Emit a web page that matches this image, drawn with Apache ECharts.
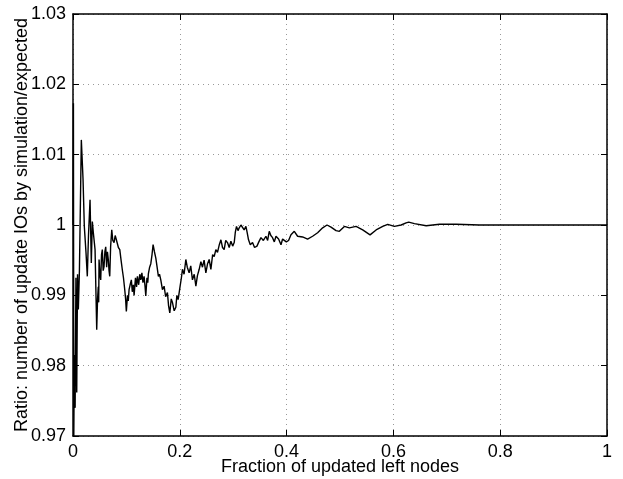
<!DOCTYPE html>
<html>
<head>
<meta charset="utf-8">
<script src="https://cdn.jsdelivr.net/npm/echarts@6/dist/echarts.min.js"></script>
<style>
  html, body { margin: 0; padding: 0; background: #fff; }
  #chart { width: 623px; height: 479px; }
</style>
</head>
<body>
<div id="chart"></div>
<script>
// Fraction of updated left nodes (x) and simulated/expected IO ratio (y)
const fraction = [
  0.0000, 0.0008, 0.0015, 0.0025, 0.0040, 0.0055, 0.0070, 0.0085, 0.0100, 0.0120,
  0.0156, 0.0188, 0.0212, 0.0244, 0.0268, 0.0290, 0.0319, 0.0343, 0.0362, 0.0381,
  0.0413, 0.0444, 0.0460, 0.0474, 0.0481, 0.0488, 0.0503, 0.0519, 0.0534, 0.0549,
  0.0565, 0.0581, 0.0597, 0.0613, 0.0630, 0.0645, 0.0662, 0.0675, 0.0688, 0.0705,
  0.0726, 0.0745, 0.0769, 0.0790, 0.0812, 0.0831, 0.0850, 0.0876, 0.0900, 0.0924,
  0.0945, 0.0969, 0.0985, 0.0999, 0.1020, 0.1035, 0.1050, 0.1070, 0.1093, 0.1110,
  0.1130, 0.1144, 0.1170, 0.1190, 0.1206, 0.1230, 0.1250, 0.1269, 0.1290, 0.1310,
  0.1331, 0.1350, 0.1363, 0.1385, 0.1400, 0.1412, 0.1435, 0.1457, 0.1480, 0.1500,
  0.1525, 0.1551, 0.1575, 0.1599, 0.1620, 0.1644, 0.1675, 0.1706, 0.1735, 0.1768,
  0.1790, 0.1813, 0.1840, 0.1862, 0.1895, 0.1926, 0.1945, 0.1969, 0.2006, 0.2030,
  0.2050, 0.2080, 0.2113, 0.2140, 0.2175, 0.2205, 0.2237, 0.2270, 0.2301, 0.2330,
  0.2363, 0.2395, 0.2424, 0.2455, 0.2488, 0.2520, 0.2550, 0.2582, 0.2615, 0.2644,
  0.2675, 0.2706, 0.2740, 0.2770, 0.2800, 0.2831, 0.2860, 0.2893, 0.2925, 0.2957,
  0.2990, 0.3019, 0.3040, 0.3062, 0.3090, 0.3113, 0.3145, 0.3175, 0.3205, 0.3238,
  0.3260, 0.3287, 0.3320, 0.3362, 0.3400, 0.3445, 0.3480, 0.3520, 0.3565, 0.3613,
  0.3645, 0.3675, 0.3705, 0.3737, 0.3770, 0.3801, 0.3850, 0.3895, 0.3925, 0.3956,
  0.3995, 0.4037, 0.4082, 0.4144, 0.4206, 0.4300, 0.4393, 0.4487, 0.4581, 0.4675,
  0.4757, 0.4832, 0.4926, 0.4988, 0.5082, 0.5175, 0.5301, 0.5425, 0.5563, 0.5676,
  0.5800, 0.5894, 0.6019, 0.6145, 0.6238, 0.6287, 0.6394, 0.6614, 0.6863, 0.7176,
  0.7610, 1.0000
];
const ratio = [
  1.0000, 1.0173, 0.9700, 0.9815, 0.9740, 0.9925, 0.9762, 0.9930, 0.9880, 0.9935,
  1.0121, 1.0065, 0.9998, 0.9960, 0.9927, 0.9985, 1.0036, 0.9946, 1.0005, 0.9989,
  0.9965, 0.9851, 0.9895, 0.9912, 0.9890, 0.9951, 0.9930, 0.9922, 0.9958, 0.9965,
  0.9935, 0.9941, 0.9962, 0.9969, 0.9940, 0.9962, 0.9950, 0.9935, 0.9927, 0.9970,
  0.9993, 0.9978, 0.9975, 0.9985, 0.9979, 0.9980, 0.9968, 0.9965, 0.9950, 0.9936,
  0.9925, 0.9908, 0.9895, 0.9877, 0.9900, 0.9892, 0.9908, 0.9915, 0.9922, 0.9905,
  0.9915, 0.9900, 0.9925, 0.9912, 0.9927, 0.9915, 0.9930, 0.9922, 0.9932, 0.9918,
  0.9927, 0.9912, 0.9899, 0.9925, 0.9918, 0.9931, 0.9940, 0.9945, 0.9958, 0.9972,
  0.9962, 0.9953, 0.9940, 0.9927, 0.9930, 0.9922, 0.9908, 0.9913, 0.9898, 0.9904,
  0.9885, 0.9875, 0.9895, 0.9890, 0.9878, 0.9883, 0.9900, 0.9894, 0.9913, 0.9925,
  0.9937, 0.9930, 0.9951, 0.9940, 0.9932, 0.9942, 0.9922, 0.9930, 0.9913, 0.9928,
  0.9937, 0.9948, 0.9940, 0.9950, 0.9932, 0.9945, 0.9951, 0.9937, 0.9958, 0.9955,
  0.9965, 0.9961, 0.9972, 0.9979, 0.9968, 0.9965, 0.9978, 0.9975, 0.9968, 0.9977,
  0.9970, 0.9975, 0.9990, 0.9998, 0.9992, 0.9996, 1.0000, 0.9999, 0.9993, 0.9998,
  0.9990, 0.9979, 0.9972, 0.9975, 0.9968, 0.9970, 0.9976, 0.9982, 0.9978, 0.9984,
  0.9978, 0.9991, 0.9985, 0.9982, 0.9976, 0.9984, 0.9980, 0.9972, 0.9980, 0.9982,
  0.9976, 0.9978, 0.9986, 0.9991, 0.9984, 0.9983, 0.9980, 0.9984, 0.9989, 0.9996,
  1.0000, 0.9997, 0.9992, 0.9991, 0.9998, 0.9996, 0.9998, 0.9993, 0.9986, 0.9993,
  0.9998, 1.0001, 0.9998, 1.0000, 1.0003, 1.0004, 1.0002, 0.9999, 1.0001, 1.0001,
  1.0000, 1.0000
];
const xTicks = [0, 0.2, 0.4, 0.6, 0.8, 1];
const yTicks = [0.97, 0.98, 0.99, 1.00, 1.01, 1.02, 1.03];

const xTitle = 'Fraction of updated left nodes';
const yTitle = 'Ratio: number of update IOs by simulation/expected';

const points = fraction.map((x, i) => [x, ratio[i]]);
const font = 'Liberation Sans, Arial, Helvetica, sans-serif';
const fmt = v => String(+(+v).toFixed(2));

const tickStyle = { show: true, inside: true, length: 6, lineStyle: { color: '#000', width: 1 } };
const frame = { show: true, onZero: false, lineStyle: { color: '#000', width: 1.5 } };
const grid = { show: true, lineStyle: { color: '#999', type: [1, 4], width: 1 } };

const chart = echarts.init(document.getElementById('chart'), null, { renderer: 'canvas' });
chart.setOption({
  animation: false,
  backgroundColor: '#fff',
  grid: { left: 73, right: 16, top: 14, bottom: 43, containLabel: false, outerBoundsMode: 'none' },
  xAxis: [
    {
      type: 'value', min: xTicks[0], max: xTicks[xTicks.length - 1], interval: 0.2,
      axisLine: frame, axisTick: tickStyle, splitLine: grid,
      axisLabel: { color: '#000', fontSize: 18, fontFamily: font, margin: 7, formatter: fmt },
      name: xTitle, nameLocation: 'middle', nameGap: 22, nameMoveOverlap: false,
      nameTextStyle: { color: '#000', fontSize: 18, fontFamily: font }
    },
    {
      type: 'value', position: 'top', min: xTicks[0], max: xTicks[xTicks.length - 1], interval: 0.2,
      axisLine: frame, axisTick: tickStyle, splitLine: { show: false }, axisLabel: { show: false }
    }
  ],
  yAxis: [
    {
      type: 'value', min: yTicks[0], max: yTicks[yTicks.length - 1], interval: 0.01,
      axisLine: frame, axisTick: tickStyle, splitLine: grid,
      axisLabel: { color: '#000', fontSize: 18, fontFamily: font, margin: 7, formatter: fmt },
      name: yTitle, nameLocation: 'middle', nameGap: 42, nameRotate: 90, nameMoveOverlap: false,
      nameTextStyle: { color: '#000', fontSize: 18, fontFamily: font }
    },
    {
      type: 'value', position: 'right', min: yTicks[0], max: yTicks[yTicks.length - 1], interval: 0.01,
      axisLine: frame, axisTick: tickStyle, splitLine: { show: false }, axisLabel: { show: false }
    }
  ],
  series: [{
    type: 'line',
    data: points,
    showSymbol: false,
    symbol: 'none',
    lineStyle: { color: '#000', width: 1.4 },
    z: 3
  }]
});
</script>
</body>
</html>
